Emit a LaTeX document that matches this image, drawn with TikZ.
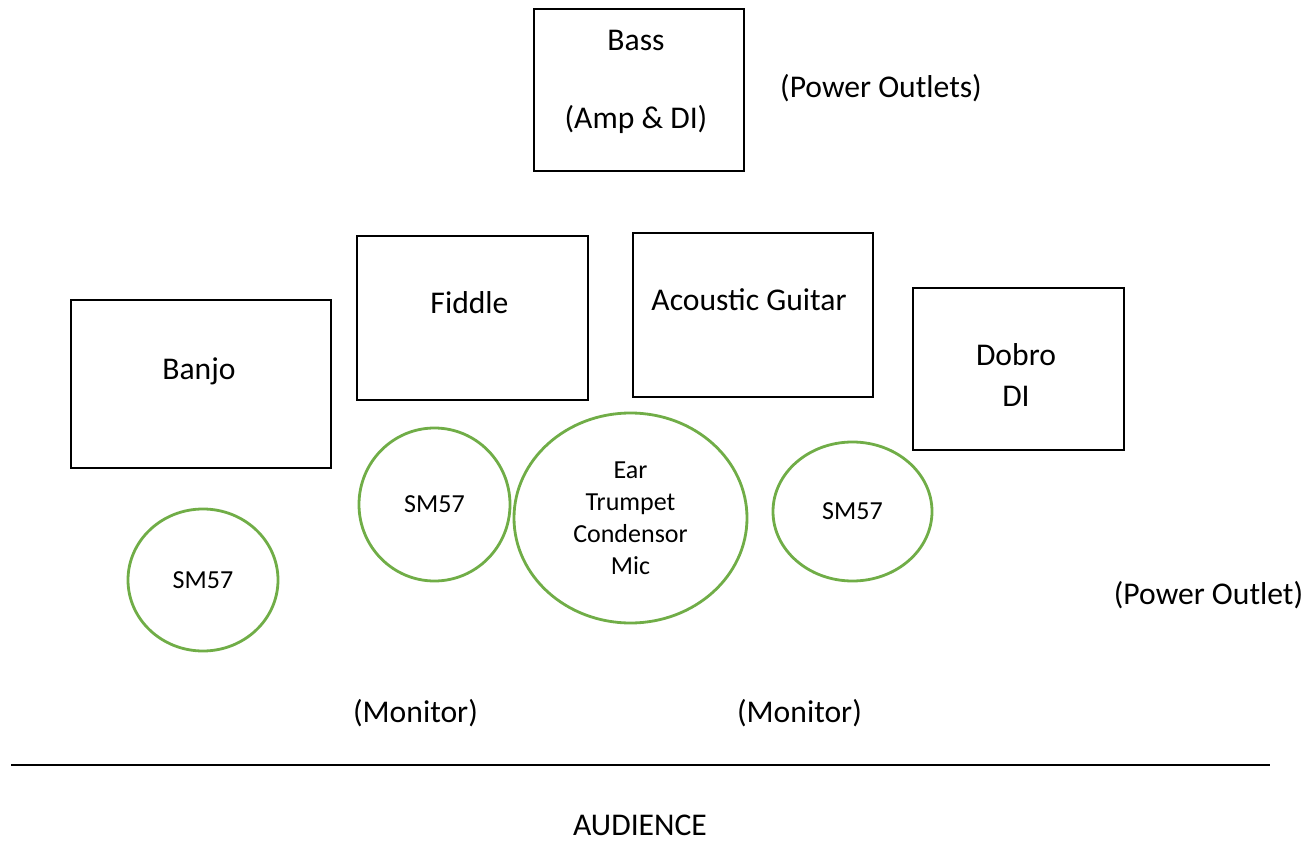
\documentclass[tikz,border=0pt]{standalone}
\usepackage{fontspec}
\setmainfont{Carlito}
\usepackage{tikz}
\usetikzlibrary{shapes.geometric}
\definecolor{micgreen}{HTML}{70AD47}

\begin{document}
\begin{tikzpicture}[
    bigtext/.style={font=\fontsize{18}{23}\selectfont, align=center, inner sep=0pt},
    smalltext/.style={font=\fontsize{14.8}{18.3}\selectfont, align=center},
    amp/.style={draw, line width=0.8pt, rectangle, inner sep=0pt},
    mic/.style={draw=micgreen, line width=1.6pt, ellipse, inner sep=0pt, smalltext},
    stageline/.style={line width=1.5pt}
]
\useasboundingbox (0,0) rectangle (26.2,-16.86);

% back line 
                \node at (12.78,-1.80) (bass) [amp, minimum width=4.2cm, minimum height=3.24cm] {};
                \node at (12.72,-1.64) (basstxt) [bigtext] {Bass\\[21.5pt](Amp \& DI)};
                \node at (17.62,-1.76) (outlets) [bigtext] {(Power Outlets)};
                %
                % instruments 
                \node at (9.45,-6.36) (fiddle) [amp, minimum width=4.62cm, minimum height=3.28cm] {};
                \node at (9.39,-6.06) (fiddletxt) [bigtext] {Fiddle};
                \node at (15.06,-6.30) (guitar) [amp, minimum width=4.8cm, minimum height=3.28cm] {};
                \node at (14.98,-6.00) (guitartxt) [bigtext] {Acoustic Guitar};
                \node at (4.02,-7.68) (banjo) [amp, minimum width=5.2cm, minimum height=3.36cm] {};
                \node at (3.98,-7.42) (banjotxt) [bigtext] {Banjo};
                \node at (20.37,-7.38) (dobro) [amp, minimum width=4.22cm, minimum height=3.24cm] {};
                \node at (20.32,-7.50) (dobrotxt) [bigtext] {Dobro\\DI};
                %
                % mics 
                \node at (4.06,-11.60) (banjomic) [mic, minimum width=3.0cm, minimum height=2.84cm] {SM57};
                \node at (8.69,-10.09) (fiddlemic) [mic, minimum width=3.02cm, minimum height=3.06cm] {SM57};
                \node at (12.61,-10.36) (earmic) [mic, minimum width=4.66cm, minimum height=4.2cm] {Ear\\Trumpet\\Condensor\\Mic};
                \node at (17.05,-10.23) (dobromic) [mic, minimum width=3.18cm, minimum height=2.78cm] {SM57};
                %
                \node at (24.17,-11.90) (outlet) [bigtext] {(Power Outlet)};
                % monitors 
                \node at (8.31,-14.26) (monl) [bigtext] {(Monitor)};
                \node at (15.99,-14.26) (monr) [bigtext] {(Monitor)};
                %
                % edge of the stage 
                \coordinate (stageL) at (0.22,-15.30);
                \coordinate (stageR) at (25.40,-15.30);
                \draw [stageline] (stageL) -- (stageR);
                \node at (12.80,-16.50) (audience) [bigtext] {AUDIENCE};
\end{tikzpicture}
\end{document}
